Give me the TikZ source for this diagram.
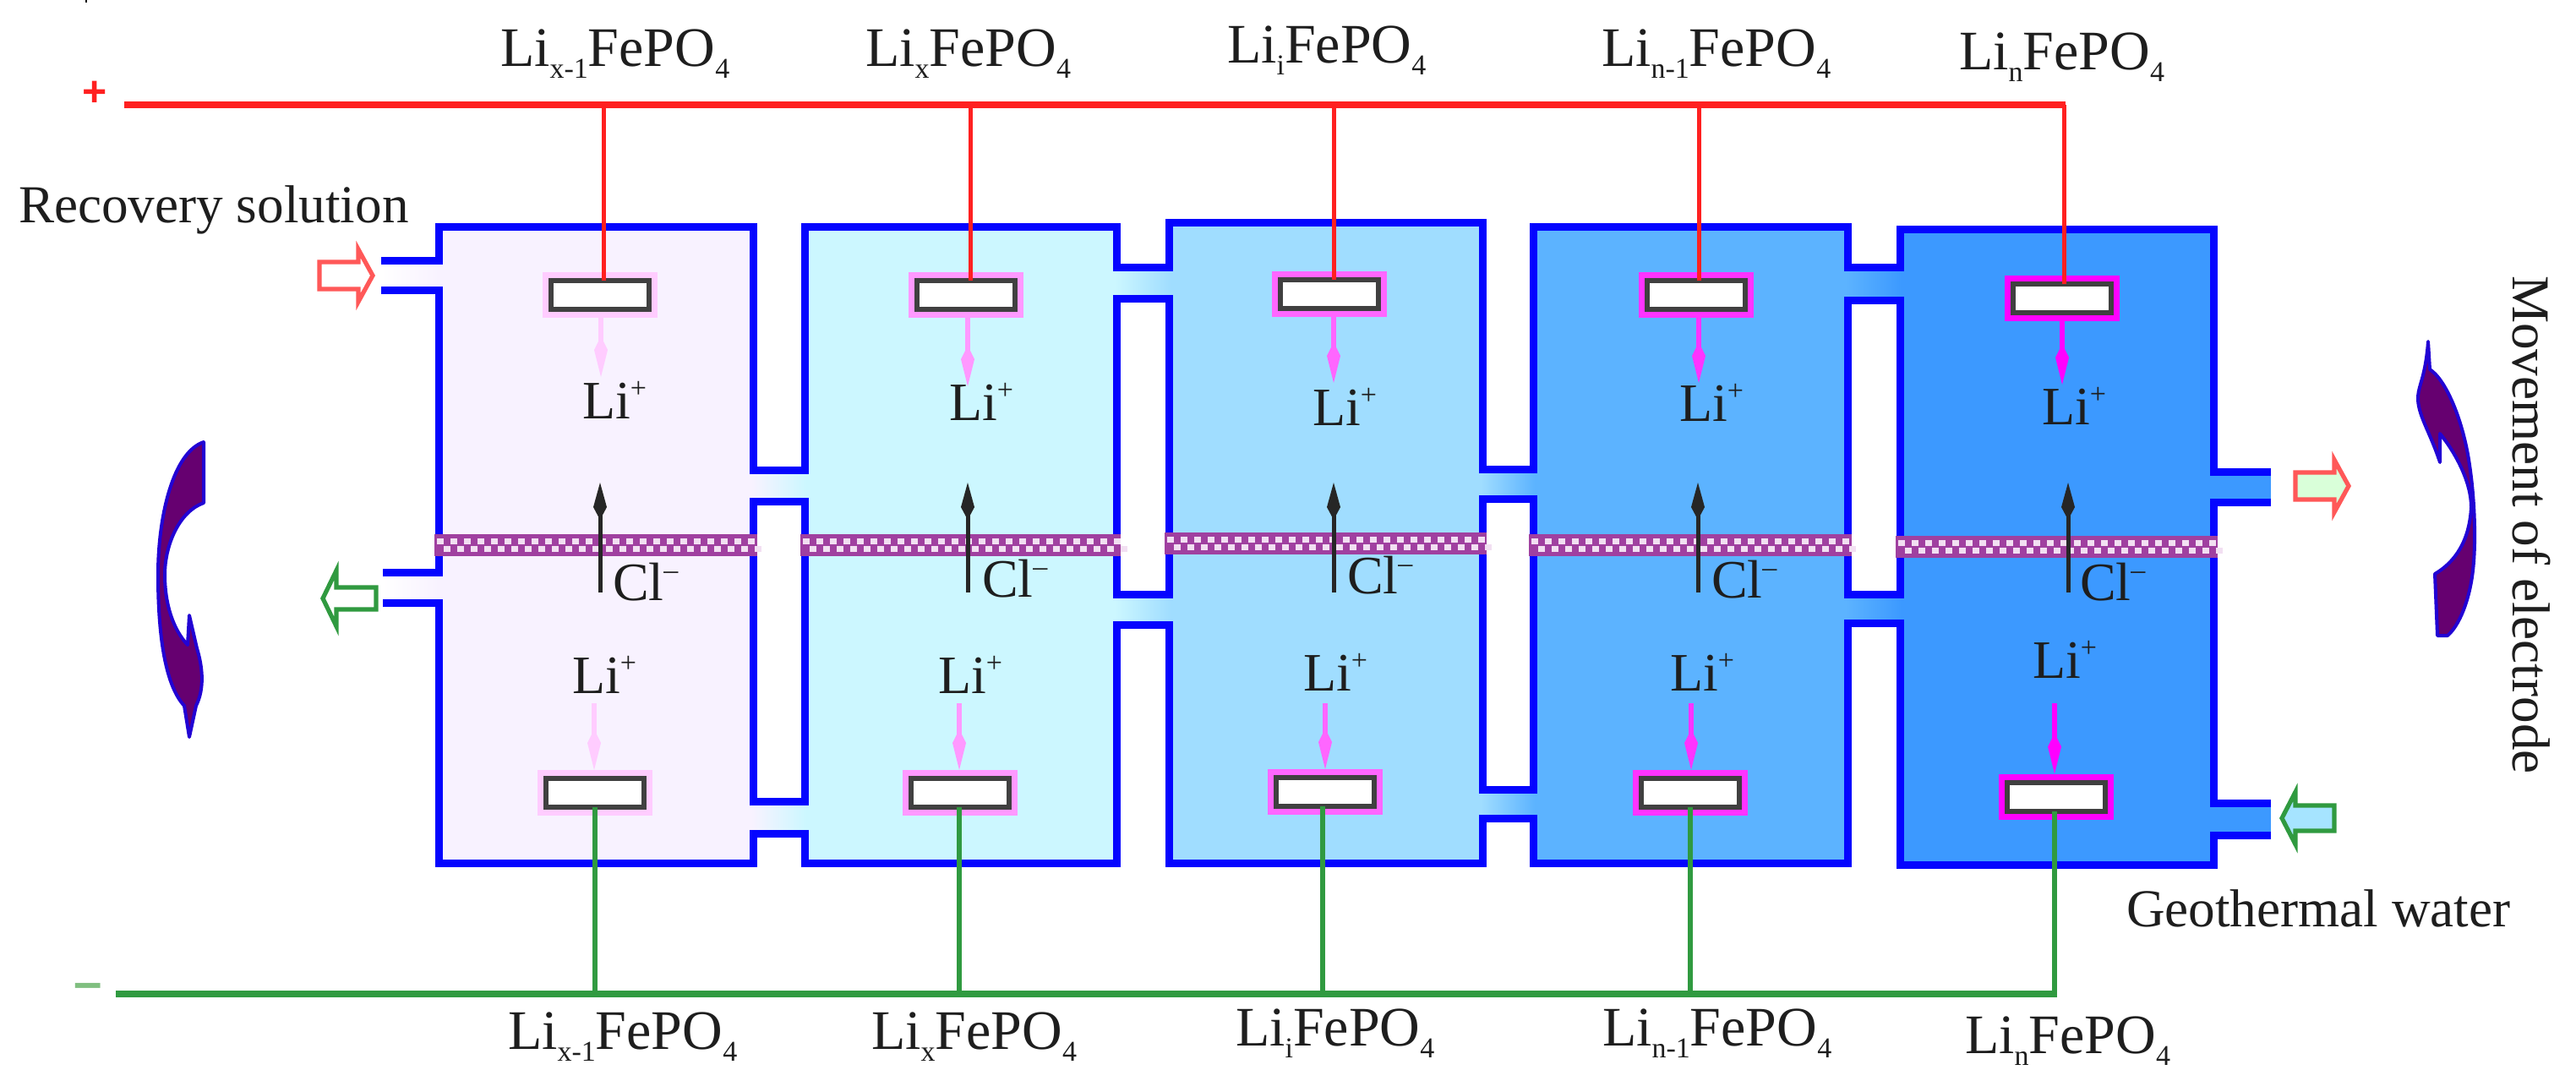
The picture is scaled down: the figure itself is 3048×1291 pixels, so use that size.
\documentclass[tikz,border=0pt]{standalone}
\usepackage{fontspec}
\setmainfont{Liberation Serif}
\newfontfamily\signfont{Liberation Sans}
\usetikzlibrary{arrows.meta,calc}
\definecolor{bx1}{HTML}{F8F2FF}
\definecolor{bx2}{HTML}{CCF7FF}
\definecolor{bx3}{HTML}{A0DDFF}
\definecolor{bx4}{HTML}{5CB3FF}
\definecolor{bx5}{HTML}{3C99FF}
\definecolor{h1}{HTML}{FFCCFF}
\definecolor{h2}{HTML}{FF99FF}
\definecolor{h3}{HTML}{FF66FF}
\definecolor{h4}{HTML}{FF33FF}
\definecolor{h5}{HTML}{FF00FF}
\definecolor{wallblue}{HTML}{0505FF}
\definecolor{redw}{HTML}{FF2020}
\definecolor{greenw}{HTML}{309A40}
\definecolor{memb}{HTML}{A040A0}
\definecolor{membdot}{HTML}{F2DFF2}
\definecolor{swoop}{HTML}{660070}
\definecolor{txt}{HTML}{1E1E1E}
\newcommand{\lowidx}[1]{\raisebox{-7pt}{\fontsize{17}{17}\selectfont #1}}
\newcommand{\upidx}[1]{\raisebox{12.5pt}{\fontsize{17}{17}\selectfont #1}}
\newcommand{\felabel}[1]{Li\lowidx{#1}FePO\lowidx{4}}
\tikzset{
  wall/.style={draw=wallblue,line width=4.5pt,miter limit=10},
  redwire/.style={draw=redw,line width=2.5pt},
  redbus/.style={draw=redw,line width=3.6pt},
  greenwire/.style={draw=greenw,line width=2.8pt},
  greenbus/.style={draw=greenw,line width=3.6pt},
  electrode/.style={preaction={draw=#1,line width=10pt},draw=black!75,fill=white,line width=3pt,
    minimum width=58pt,minimum height=17pt,inner sep=0pt,outer sep=0pt,rectangle},
  ionarrow/.style={draw=#1,line width=3pt,-{Kite[length=24pt,width=8pt,inset=8pt,line width=0pt,fill=#1]}},
  clarrow/.style={draw=black!85,line width=2.5pt,-{Kite[length=22pt,width=8pt,inset=7.5pt,line width=0pt]}},
  flowarrow/.style={line width=2.6pt,line join=miter},
  swoopshape/.style={fill=swoop,draw=wallblue!70!swoop,line width=2pt,line join=round},
  label/.style={anchor=base west,inner sep=0pt,outer sep=0pt,text=txt,font=\fontsize{33}{40}\selectfont},
  ion/.style={anchor=base west,inner sep=0pt,outer sep=0pt,text=txt,font=\fontsize{32}{38}\selectfont},
  note/.style={anchor=base west,inner sep=0pt,outer sep=0pt,text=txt,font=\fontsize{31.6}{38}\selectfont},
}
\begin{document}
\begin{tikzpicture}[x=0.5pt,y=-0.5pt]
\useasboundingbox (0,0) rectangle (3048,1291);
\fill[white] (0,0) rectangle (3048,1291);
\draw[black,line width=0.8pt] (102,0) -- (102,3);
% chamber fills
\fill[bx1] (519,268) rectangle (891,1021);
\fill[bx2] (952,268) rectangle (1321,1021);
\fill[bx3] (1383,263) rectangle (1754,1021);
\fill[bx4] (1814,268) rectangle (2186,1021);
\fill[bx5] (2248,271) rectangle (2619,1023);
% channels
\shade[left color=white,right color=bx1] (451,308) rectangle (519,343);
\shade[left color=white,right color=bx1] (453,677) rectangle (519,713);
\shade[left color=bx1,right color=bx2] (889,556) rectangle (954,593);
\shade[left color=bx1,right color=bx2] (889,948) rectangle (954,986);
\shade[left color=bx2,right color=bx3] (1319,316) rectangle (1385,353);
\shade[left color=bx2,right color=bx3] (1319,703) rectangle (1385,739);
\shade[left color=bx3,right color=bx4] (1752,555) rectangle (1816,590);
\shade[left color=bx3,right color=bx4] (1752,934) rectangle (1816,968);
\shade[left color=bx4,right color=bx5] (2184,316) rectangle (2250,355);
\shade[left color=bx4,right color=bx5] (2184,703) rectangle (2250,737);
\fill[bx5] (2617,558) rectangle (2687,594);
\fill[bx5] (2617,950) rectangle (2687,988);
% walls
\draw[wall] (451,308) -- (519,308) -- (519,268) -- (891,268) -- (891,556) -- (952,556) -- (952,268)
  -- (1321,268) -- (1321,316) -- (1383,316) -- (1383,263) -- (1754,263) -- (1754,555) -- (1814,555)
  -- (1814,268) -- (2186,268) -- (2186,316) -- (2248,316) -- (2248,271) -- (2619,271) -- (2619,558) -- (2687,558);
\draw[wall] (451,343) -- (519,343) -- (519,677) -- (453,677);
\draw[wall] (453,713) -- (519,713) -- (519,1021) -- (891,1021) -- (891,986) -- (952,986) -- (952,1021)
  -- (1321,1021) -- (1321,739) -- (1383,739) -- (1383,1021) -- (1754,1021) -- (1754,968) -- (1814,968)
  -- (1814,1021) -- (2186,1021) -- (2186,737) -- (2248,737) -- (2248,1023) -- (2619,1023) -- (2619,988) -- (2687,988);
\draw[wall] (891,593) rectangle (952,948);
\draw[wall] (1321,353) rectangle (1383,703);
\draw[wall] (1754,590) rectangle (1814,934);
\draw[wall] (2186,355) rectangle (2248,703);
\draw[wall] (2687,594) -- (2619,594) -- (2619,950) -- (2687,950);
% membranes
\foreach \xa/\xb/\yc in {514/896/645,947/1326/645,1378/1759/643,1809/2191/645,2243/2624/647}{
  \fill[memb] (\xa,\yc-13) rectangle (\xb,\yc+13);
  \foreach \k in {0,...,23}{
    \fill[membdot] (\xa+3+\k*16,\yc-8) rectangle (\xa+11+\k*16,\yc-1);
    \fill[membdot] (\xa+11+\k*16,\yc+1) rectangle (\xa+19+\k*16,\yc+8);
  }
}
% electrode centres
\foreach \n/\cx/\cy in {1/709.5/348.5,2/1142.5/348.5,3/1573/347.5,4/2007/348.5,5/2439.5/352.5}{
  \coordinate (ec\n) at (\cx,\cy);
}
\foreach \n/\cx/\cy in {1/704/938,2/1135.5/938,3/1567.5/937,4/1999.5/938,5/2432.5/942.5}{
  \coordinate (bc\n) at (\cx,\cy);
}
% buses
\coordinate (redstart) at (147,124);
\coordinate (greenstart) at (137,1176);
\foreach \n/\tx in {1/714,2/1148,3/1578,4/2010,5/2442}{\coordinate (rt\n) at (\tx,124);}
\foreach \n/\tx in {1/704,2/1135,3/1565,4/2000,5/2431}{\coordinate (gt\n) at (\tx,1176);}
\draw[redbus] (redstart) -- ([xshift=1.2pt]rt5);
\draw[greenbus] (greenstart) -- ([xshift=1.4pt]gt5);
\foreach \n/\hc in {1/h1,2/h2,3/h3,4/h4,5/h5}{
  \node[electrode=\hc] (e\n) at (ec\n) {};
  \node[electrode=\hc] (b\n) at (bc\n) {};
  \draw[redwire] (rt\n) -- (rt\n |- e\n.north);
  \draw[greenwire] (gt\n) -- (gt\n |- b\n.south);
}
% ion arrows
\foreach \n/\hc/\ux/\uy/\lx in {1/h1/711/446/703,2/h2/1145/457/1135,3/h3/1578/453/1568,4/h4/2010/453/2001,5/h5/2440/455/2431}{
  \coordinate (up\n) at (\ux,\uy);
  \coordinate (lo\n) at (\lx,832);
  \draw[ionarrow=\hc,shorten <=5pt] (up\n |- e\n.south) -- (up\n);
  \draw[ionarrow=\hc,shorten >=5pt] (lo\n) -- (lo\n |- b\n.north);
}
% chloride arrows
\foreach \n/\cx in {1/710,2/1145,3/1578,4/2009,5/2447}{
  \coordinate (cltail\n) at (\cx,701);
  \coordinate (clhead\n) at (\cx,571);
  \draw[clarrow] (cltail\n) -- (clhead\n);
}
% ion labels
\foreach \n/\xx/\yy in {1/689/495,2/1123/497,3/1553/503,4/1987/498,5/2416/502}{
  \node[ion] (liu\n) at (\xx,\yy) {Li\upidx{+}};
}
\foreach \n/\xx/\yy in {1/677/820,2/1110/820,3/1542/817,4/1976/817,5/2405/802}{
  \node[ion] (lil\n) at (\xx,\yy) {Li\upidx{+}};
}
\foreach \n/\xx/\yy in {1/725/710,2/1162/706,3/1594/702,4/2025/707,5/2461/710}{
  \node[ion] (cl\n) at (\xx,\yy) {Cl\upidx{–}};
}
% formula labels
\node[label] (tl1) at (592,78) {\felabel{x-1}};
\node[label] (tl2) at (1024,78) {\felabel{x}};
\node[label] (tl3) at (1452,74) {\felabel{i}};
\node[label] (tl4) at (1895,78) {\felabel{n-1}};
\node[label] (tl5) at (2318,82) {\felabel{n}};
\node[label] (bl1) at (601,1241) {\felabel{x-1}};
\node[label] (bl2) at (1031,1241) {\felabel{x}};
\node[label] (bl3) at (1462,1237) {\felabel{i}};
\node[label] (bl4) at (1896,1237) {\felabel{n-1}};
\node[label] (bl5) at (2325,1246) {\felabel{n}};
% notes
\node[note] (rec) at (22,263) {Recovery solution};
\node[note] (geo) at (2516,1096) {Geothermal water};
\node[note,rotate=-90] (mov) at (2973,326) {Movement of electrode};
\node[anchor=base west,inner sep=0pt,text=redw,font=\signfont\bfseries\fontsize{25}{30}\selectfont] (plus) at (97,125) {+};
\node[anchor=base west,inner sep=0pt,text=green!50!black!50!white,font=\signfont\bfseries\fontsize{30}{36}\selectfont] (minus) at (87,1182) {–};
% flow arrows
\draw[flowarrow,draw=redw!75,fill=white] (378,310) -- (424,310) -- (424,295) -- (441,326) -- (424,357) -- (424,342) -- (378,342) -- cycle;
\draw[flowarrow,draw=greenw,fill=white] (445,695) -- (398,695) -- (398,675) -- (382,708) -- (398,741) -- (398,721) -- (445,721) -- cycle;
\draw[flowarrow,draw=redw!75,fill=green!15] (2716,559) -- (2762,559) -- (2762,544) -- (2779,575) -- (2762,606) -- (2762,591) -- (2716,591) -- cycle;
\draw[flowarrow,draw=greenw,fill=blue!30!cyan!35] (2762,953) -- (2716,953) -- (2716,937) -- (2700,968) -- (2716,999) -- (2716,983) -- (2762,983) -- cycle;
% movement swoops
\draw[swoopshape] (241,523) .. controls (205,535) and (187,610) .. (187,680)
  .. controls (187,750) and (195,810) .. (218,835) -- (224,872) -- (232,835)
  .. controls (242,815) and (240,790) .. (233,767) -- (224,728) -- (222,763)
  .. controls (205,745) and (195,715) .. (195,680)
  .. controls (195,645) and (212,605) .. (241,595) -- cycle;
\draw[swoopshape] (2873,404) -- (2875,437) .. controls (2895,450) and (2915,500) .. (2922,550)
  .. controls (2928,590) and (2930,640) .. (2926,675)
  .. controls (2922,710) and (2910,740) .. (2896,752) -- (2884,752) -- (2881,679)
  .. controls (2905,665) and (2922,640) .. (2924,600)
  .. controls (2924,570) and (2905,535) .. (2887,513) -- (2887,547)
  .. controls (2875,510) and (2860,490) .. (2861,469) .. controls (2862,455) and (2870,445) .. (2873,404) -- cycle;
\end{tikzpicture}
\end{document}
